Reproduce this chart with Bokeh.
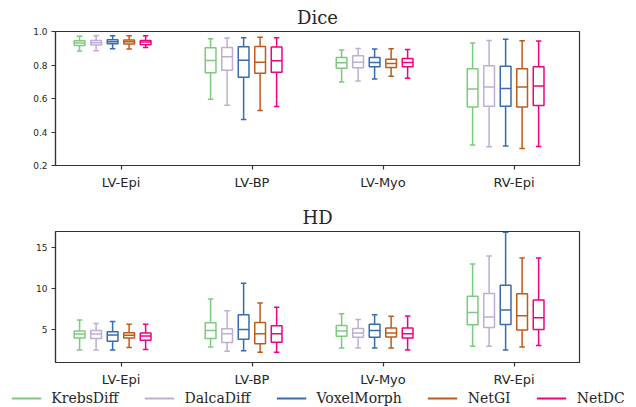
from bokeh.plotting import figure
from bokeh.models import (ColumnDataSource, Range1d, FixedTicker, Legend, LegendItem,
                          Title, PrintfTickFormatter)
from bokeh.layouts import column
from bokeh.embed import file_html
from bokeh.resources import INLINE

categories = ["LV-Epi", "LV-BP", "LV-Myo", "RV-Epi"]
methods = ["KrebsDiff", "DalcaDiff", "VoxelMorph", "NetGI", "NetDC"]
colors = ["#7fc97f", "#beaed4", "#386cb0", "#bf5b17", "#f0027f"]

# Dice box statistics: rows = methods, columns = categories
dice_lo = [[0.883, 0.596, 0.699, 0.322],
           [0.885, 0.560, 0.705, 0.312],
           [0.897, 0.474, 0.717, 0.316],
           [0.895, 0.528, 0.733, 0.302],
           [0.905, 0.552, 0.721, 0.314]]
dice_q1 = [[0.917, 0.753, 0.781, 0.549],
           [0.919, 0.769, 0.783, 0.554],
           [0.927, 0.727, 0.789, 0.554],
           [0.925, 0.751, 0.785, 0.549],
           [0.921, 0.757, 0.789, 0.558]]
dice_med = [[0.931, 0.827, 0.813, 0.657],
            [0.933, 0.849, 0.817, 0.669],
            [0.939, 0.829, 0.815, 0.660],
            [0.939, 0.817, 0.809, 0.669],
            [0.937, 0.825, 0.815, 0.675]]
dice_q3 = [[0.945, 0.903, 0.845, 0.777],
           [0.947, 0.905, 0.855, 0.795],
           [0.951, 0.909, 0.845, 0.793],
           [0.949, 0.911, 0.835, 0.777],
           [0.947, 0.907, 0.839, 0.789]]
dice_hi = [[0.971, 0.957, 0.889, 0.931],
           [0.975, 0.961, 0.899, 0.947],
           [0.975, 0.963, 0.895, 0.953],
           [0.975, 0.965, 0.897, 0.945],
           [0.975, 0.963, 0.893, 0.943]]

# HD box statistics
hd_lo = [[2.52, 2.88, 2.76, 3.00],
         [2.52, 2.36, 2.76, 3.00],
         [2.52, 2.44, 2.76, 2.52],
         [2.84, 2.24, 2.76, 2.88],
         [2.60, 2.24, 2.52, 3.08]]
hd_q1 = [[4.00, 3.92, 4.20, 5.60],
         [3.92, 3.44, 4.08, 5.28],
         [3.60, 3.84, 4.08, 5.64],
         [4.00, 3.28, 4.12, 4.96],
         [3.72, 3.48, 4.00, 5.04]]
hd_med = [[4.48, 4.92, 4.84, 7.12],
          [4.48, 4.52, 4.60, 6.56],
          [4.36, 5.04, 4.92, 7.40],
          [4.32, 4.52, 4.60, 6.72],
          [4.24, 4.52, 4.52, 6.48]]
hd_q3 = [[4.84, 5.84, 5.52, 9.08],
         [4.92, 5.12, 5.16, 9.44],
         [4.76, 6.84, 5.68, 10.44],
         [4.64, 5.88, 5.20, 9.40],
         [4.60, 5.48, 5.20, 8.64]]
hd_hi = [[6.20, 8.76, 6.96, 13.04],
         [5.76, 7.32, 6.24, 14.00],
         [6.00, 10.68, 6.84, 16.92],
         [5.68, 8.28, 6.64, 13.76],
         [5.68, 7.76, 6.68, 13.76]]

dice_ticks = [0.2, 0.4, 0.6, 0.8, 1.0]
hd_ticks = [5, 10, 15]

BOX_W = 0.082
CAP_W = 0.042
STEP = 0.126
SHIFT = -0.064
AX = "#333333"
TXT = "#262626"


def method_sources(lo, q1, med, q3, hi):
    out = []
    for k in range(len(methods)):
        xs = [i + (k - 2) * STEP + SHIFT for i in range(len(categories))]
        out.append(ColumnDataSource(dict(
            x=xs, x0=[x - CAP_W / 2 for x in xs], x1=[x + CAP_W / 2 for x in xs],
            bx0=[x - BOX_W / 2 for x in xs], bx1=[x + BOX_W / 2 for x in xs],
            lo=lo[k], q1=q1[k], med=med[k], q3=q3[k], hi=hi[k])))
    return out


def make_panel(title, sources, yr, yticks, yfmt, height, frame_h):
    p = figure(width=636, height=height, output_backend="svg", toolbar_location=None,
               x_range=Range1d(-0.5, 3.5), y_range=Range1d(*yr),
               min_border_left=55, min_border_right=57, min_border_top=31,
               min_border_bottom=height - 31 - frame_h)
    p.title = Title(text=title, align="center", text_font="DejaVu Serif",
                    text_font_size="18px", text_font_style="normal",
                    text_color=TXT, standoff=7)
    p.grid.visible = False
    p.outline_line_color = AX
    p.outline_line_width = 1.2
    p.outline_line_alpha = 1.0
    p.background_fill_color = "white"
    p.border_fill_color = "white"

    p.xaxis.ticker = FixedTicker(ticks=list(range(len(categories))))
    p.xaxis.major_label_overrides = {i: c for i, c in enumerate(categories)}
    p.xaxis.major_label_text_font = "DejaVu Sans"
    p.xaxis.major_label_text_font_size = "13px"
    p.xaxis.major_label_standoff = 5
    p.yaxis.ticker = FixedTicker(ticks=yticks)
    p.yaxis.formatter = PrintfTickFormatter(format=yfmt)
    p.yaxis.major_label_text_font = "DejaVu Sans"
    p.yaxis.major_label_text_font_size = "9px"
    p.yaxis.major_label_standoff = 4
    for ax in (p.xaxis, p.yaxis):
        ax.axis_line_color = AX
        ax.axis_line_width = 1.2
        ax.major_tick_line_color = AX
        ax.major_tick_line_width = 1.2
        ax.major_tick_out = 4
        ax.major_tick_in = 0
        ax.minor_tick_out = 0
        ax.minor_tick_in = 0
        ax.major_label_text_color = TXT

    for src, c in zip(sources, colors):
        p.segment(x0="x", y0="q3", x1="x", y1="hi", source=src, line_color=c, line_width=1.5)
        p.segment(x0="x", y0="lo", x1="x", y1="q1", source=src, line_color=c, line_width=1.5)
        p.segment(x0="x0", y0="hi", x1="x1", y1="hi", source=src, line_color=c, line_width=1.5)
        p.segment(x0="x0", y0="lo", x1="x1", y1="lo", source=src, line_color=c, line_width=1.5)
        p.quad(left="bx0", right="bx1", bottom="q1", top="q3", source=src,
               fill_color=None, line_color=c, line_width=1.5)
        p.segment(x0="bx0", y0="med", x1="bx1", y1="med", source=src, line_color=c, line_width=1.5)
    return p


dice_src = method_sources(dice_lo, dice_q1, dice_med, dice_q3, dice_hi)
hd_src = method_sources(hd_lo, hd_q1, hd_med, hd_q3, hd_hi)

p1 = make_panel("Dice", dice_src, (0.2, 1.0), dice_ticks, "%.1f", 200, 134)
p2 = make_panel("HD", hd_src, (1.0, 17.0), hd_ticks, "%d", 189, 133)

# legend strip (its renderers are hidden; only the legend is shown)
p3 = figure(width=636, height=18, output_backend="svg", toolbar_location=None,
            x_axis_type=None, y_axis_type=None,
            x_range=Range1d(-0.5, 3.5), y_range=Range1d(1.0, 17.0),
            min_border_left=0, min_border_right=0, min_border_top=0, min_border_bottom=0)
p3.frame_align = False
p3.outline_line_color = None
p3.grid.visible = False
items = []
for m, c, src in zip(methods, colors, hd_src):
    r = p3.segment(x0="x", y0="lo", x1="x", y1="hi", source=src,
                   line_color=c, line_width=2, visible=False)
    items.append(LegendItem(label=m, renderers=[r]))
lg = Legend(items=items, orientation="horizontal", location="center",
            glyph_width=30, glyph_height=14, label_height=14,
            label_standoff=10, spacing=26, padding=0, margin=0,
            border_line_color=None, background_fill_alpha=0,
            label_text_font="DejaVu Serif", label_text_font_size="14px",
            label_text_color=TXT)
p3.add_layout(lg, "center")

page = column(p1, p2, p3, spacing=0)
open("out.html", "w").write(file_html(page, INLINE))
